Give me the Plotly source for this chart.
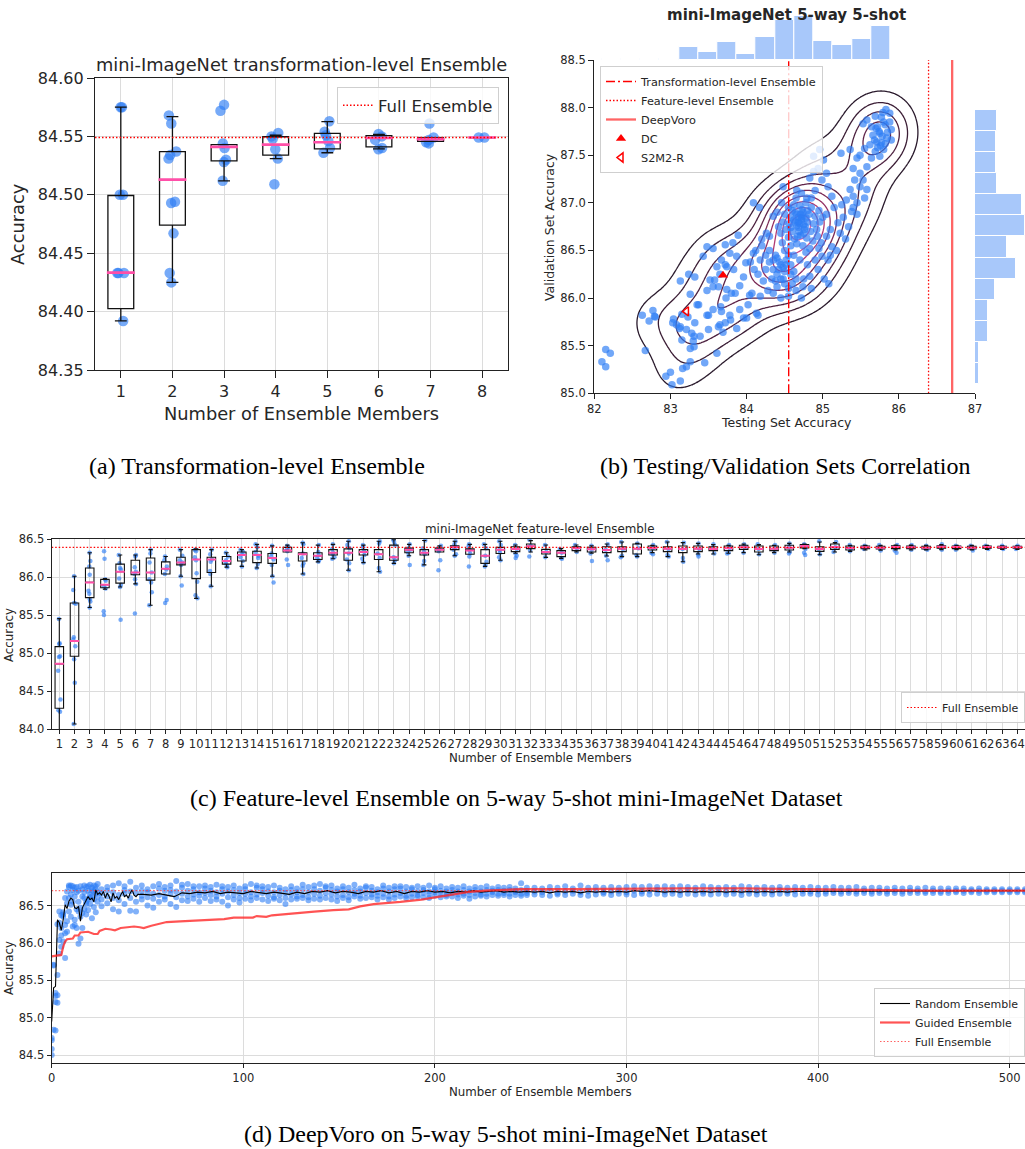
import numpy as np
import plotly.graph_objects as go

W, H = 1025, 1149
def fx(p): return p / W
def fy(p): return 1 - p / H

TXT = '#262626'
BLUE = 'rgba(45,125,245,0.65)'
FONT = 'DejaVu Sans'
DOT = '1.5px,2px'
DASHDOT = '9px,3px,2px,3px'

# ---------------- (a) transformation-level ensemble ----------------
A_GROUPS = [1, 2, 3, 4, 5, 6, 7, 8]
A_Q1 = [84.4026, 84.474, 84.529, 84.534, 84.5394, 84.5411, 84.5457, 84.549]
A_MED = [84.4334, 84.513, 84.541, 84.543, 84.545, 84.5486, 84.5477, 84.549]
A_Q3 = [84.4994, 84.537, 84.543, 84.5497, 84.5526, 84.5506, 84.549, 84.549]
A_LO = [84.392, 84.425, 84.512, 84.531, 84.536, 84.5394, 84.5457, 84.549]
A_HI = [84.575, 84.567, 84.543, 84.551, 84.5626, 84.5517, 84.549, 84.549]
A_PTS = [
    [84.575, 84.575, 84.500, 84.500, 84.433, 84.433, 84.433, 84.392],
    [84.568, 84.561, 84.537, 84.534, 84.531, 84.494, 84.493, 84.467, 84.433, 84.425],
    [84.577, 84.572, 84.544, 84.540, 84.530, 84.528, 84.512],
    [84.553, 84.550, 84.548, 84.539, 84.531, 84.509],
    [84.563, 84.554, 84.551, 84.546, 84.540, 84.536],
    [84.552, 84.550, 84.547, 84.540, 84.539],
    [84.561, 84.549, 84.547, 84.545, 84.544],
    [84.549, 84.549],
]
A_FULL = 84.549

# ---------------- (b) testing / validation correlation ----------------
B_POINTS = [
    (82.10, 85.33), (82.15, 85.46), (82.21, 85.42), (82.15, 85.28),
    (82.63, 85.82), (82.67, 85.45), (82.72, 85.76), (82.77, 85.87), (82.80, 85.80), (82.79, 85.81),
    (82.94, 85.18), (83.00, 85.22), (83.02, 85.09), (83.13, 85.13), (83.16, 85.26), (83.21, 85.28),
    (83.26, 85.33), (83.45, 85.32), (83.61, 85.42),
    (83.03, 85.74), (83.08, 85.72), (83.12, 85.68), (83.15, 85.56), (83.21, 85.67), (83.26, 85.47),
    (83.28, 85.63), (83.31, 85.60), (83.37, 85.93), (83.26, 86.04), (83.13, 86.18), (83.24, 86.25),
    (83.50, 85.67), (83.50, 85.82), (83.56, 85.88), (83.65, 85.72), (83.69, 85.64), (83.67, 85.86),
    (83.79, 85.77), (83.87, 85.68), (83.91, 85.88), (83.96, 85.79), (83.04, 85.78), (83.13, 85.70),
    (83.30, 85.55), (83.39, 85.60), (83.31, 85.49), (83.15, 85.83), (83.23, 85.80), (83.32, 85.74),
    (83.35, 85.93), (83.48, 85.82), (83.66, 85.91), (83.63, 85.70), (83.72, 85.74), (83.78, 85.82),
    (84.00, 85.79), (84.13, 85.84), (84.15, 85.82),
    (83.48, 86.08), (83.56, 86.12), (83.58, 86.19), (83.65, 86.25), (83.74, 86.33), (83.80, 86.05),
    (83.91, 86.13), (84.04, 86.03), (83.96, 86.22), (83.61, 86.33), (83.72, 86.35), (83.83, 86.30),
    (83.52, 86.19), (83.63, 86.12), (83.74, 86.09), (83.73, 86.00), (83.85, 86.05), (84.02, 85.93),
    (84.07, 86.05), (83.32, 86.22), (84.18, 86.02),
    (83.43, 86.44), (83.48, 86.54), (83.56, 86.52), (83.72, 86.56), (83.82, 86.58), (83.89, 86.66),
    (83.67, 86.40), (83.78, 86.47), (83.87, 86.44), (83.99, 86.37), (84.09, 86.47), (84.09, 87.00),
    (84.17, 86.95), (84.26, 86.68), (84.35, 86.86),
    (84.20, 86.55), (84.25, 86.45), (84.30, 86.38), (84.35, 86.30), (84.40, 86.25), (84.45, 86.20),
    (84.50, 86.15), (84.55, 86.10), (84.30, 86.50), (84.38, 86.45), (84.43, 86.38), (84.48, 86.32),
    (84.52, 86.40), (84.58, 86.35), (84.62, 86.28), (84.65, 86.20), (84.60, 86.15), (84.40, 86.12),
    (84.33, 86.20), (84.25, 86.30), (84.18, 86.40), (84.15, 86.25), (84.22, 86.18), (84.28, 86.08),
    (84.35, 86.05), (84.45, 86.00), (84.55, 86.02), (84.65, 86.08), (84.75, 86.20), (84.80, 86.35),
    (84.70, 86.40), (84.62, 86.45), (84.50, 86.50), (84.10, 86.30), (84.12, 86.50), (84.05, 86.38),
    (84.72, 86.00), (84.85, 86.10), (84.78, 86.48), (84.90, 86.40), (85.02, 86.20), (85.08, 86.15),
    (84.20, 86.62), (84.30, 86.65), (84.45, 86.35), (84.50, 86.28), (84.40, 86.42), (84.35, 86.40),
    (84.55, 86.45), (84.48, 86.20), (84.42, 86.30), (84.38, 86.18), (84.58, 86.25), (84.52, 86.35),
    (84.55, 86.95), (84.62, 86.98), (84.70, 86.97), (84.78, 87.00), (84.85, 86.95), (84.50, 86.88),
    (84.58, 86.85), (84.66, 86.88), (84.74, 86.90), (84.82, 86.88), (84.90, 86.86), (84.48, 86.80),
    (84.56, 86.78), (84.64, 86.80), (84.72, 86.82), (84.80, 86.80), (84.88, 86.78), (84.96, 86.80),
    (84.52, 86.72), (84.60, 86.70), (84.68, 86.74), (84.76, 86.72), (84.84, 86.70), (84.92, 86.72),
    (84.45, 86.68), (84.55, 86.64), (84.63, 86.62), (84.71, 86.66), (84.79, 86.63), (84.87, 86.60),
    (84.42, 86.75), (84.47, 86.58), (84.58, 86.55), (84.66, 86.57), (84.74, 86.55), (84.83, 86.52),
    (84.40, 86.90), (84.46, 87.00), (84.65, 87.05), (84.75, 86.77), (84.68, 86.85), (84.60, 86.92),
    (84.73, 86.93), (84.85, 87.05), (84.95, 86.92), (85.00, 86.85), (84.93, 86.65), (84.98, 86.58),
    (84.68, 86.80), (84.70, 86.78), (84.72, 86.84), (84.66, 86.76), (84.74, 86.86), (84.62, 86.82),
    (84.78, 86.84), (84.69, 86.70), (84.75, 86.68), (84.58, 86.74), (84.64, 86.90), (84.80, 86.92),
    (84.71, 86.88), (84.67, 86.65), (84.77, 86.75),
    (84.96, 87.56), (84.88, 87.49), (85.01, 87.45), (84.94, 87.36), (84.88, 87.33), (85.05, 87.31),
    (84.99, 87.24), (84.83, 87.26), (84.72, 87.10), (84.66, 87.13), (84.48, 87.17), (84.79, 87.05),
    (84.90, 87.13), (85.07, 87.17), (85.12, 87.07),
    (85.24, 87.52), (85.36, 87.56), (85.45, 87.47), (85.40, 87.36), (85.49, 87.31), (85.42, 87.24),
    (85.53, 87.24), (85.49, 87.17), (85.58, 87.14), (85.36, 87.14), (85.40, 87.07), (85.31, 87.03),
    (85.25, 86.98), (85.38, 86.91), (85.27, 86.85), (85.20, 86.79), (85.34, 86.75), (85.23, 86.68),
    (85.10, 86.72), (85.05, 86.65), (85.12, 86.54), (84.99, 86.44), (85.07, 86.40), (84.94, 86.30),
    (84.83, 86.23), (84.74, 86.12), (85.40, 86.95), (85.45, 86.88), (85.30, 86.62), (85.18, 86.50),
    (85.45, 87.00), (85.55, 87.05), (85.10, 86.45), (84.95, 86.52), (85.05, 86.88), (85.15, 86.95),
    (85.83, 87.98), (85.88, 87.94), (85.77, 87.90), (85.69, 87.91), (85.58, 87.87), (85.53, 87.83),
    (85.72, 87.80), (85.82, 87.82), (85.90, 87.77), (85.75, 87.73), (85.66, 87.71), (85.84, 87.68),
    (85.71, 87.64), (85.77, 87.63), (85.90, 87.66), (85.62, 87.61), (85.55, 87.57), (85.69, 87.54),
    (85.80, 87.56), (85.75, 87.49), (85.64, 87.47), (85.49, 87.50), (85.58, 87.38),
    (85.74, 87.75), (85.78, 87.70), (85.70, 87.78), (85.80, 87.85), (85.68, 87.66), (85.76, 87.60),
    (85.85, 87.74), (85.72, 87.58), (85.64, 87.80), (85.82, 87.62), (85.88, 87.85), (85.79, 87.95),
]
B_TOP_COUNTS = [1, 0, 1, 2, 21, 13, 30, 10, 38, 66, 72, 31, 25, 34, 56]
B_TOP_START, B_TOP_BINW = 82.1, 0.2526
B_RIGHT_COUNTS = [5, 5, 17, 17, 26, 53, 41, 64, 61, 29, 27, 27, 28]
B_RIGHT_START, B_RIGHT_BINW = 85.1, 0.221
B_TRANS = 84.553
B_FEAT = 86.39
B_VORO = 86.70
B_DC = (83.69, 86.24)
B_S2M2 = (83.21, 85.86)

# ---------------- (c) feature-level ensemble ----------------
C_GROUPS = list(range(1, 65))
C_Q1 = [84.277, 84.96, 85.73, 85.86, 85.92, 86.03, 85.96, 86.04, 86.16, 85.98,
        86.06, 86.17, 86.21, 86.19, 86.18, 86.33, 86.21, 86.23, 86.29, 86.22,
        86.29, 86.23, 86.22, 86.32, 86.29, 86.33, 86.36, 86.30, 86.18, 86.31,
        86.334, 86.373, 86.303, 86.268, 86.347, 86.329, 86.321, 86.334, 86.303, 86.356,
        86.334, 86.321, 86.334, 86.347, 86.347, 86.364, 86.329, 86.347, 86.356, 86.382,
        86.338, 86.364, 86.356, 86.373, 86.369, 86.373, 86.373, 86.369, 86.378, 86.373,
        86.369, 86.378, 86.378, 86.378]
C_MED = [84.86, 85.16, 85.93, 85.90, 86.07, 86.06, 86.06, 86.11, 86.19, 86.23,
         86.23, 86.21, 86.29, 86.29, 86.25, 86.35, 86.30, 86.28, 86.32, 86.32,
         86.33, 86.30, 86.26, 86.36, 86.32, 86.36, 86.39, 86.35, 86.28, 86.36,
         86.369, 86.404, 86.329, 86.321, 86.377, 86.364, 86.356, 86.373, 86.373, 86.382,
         86.373, 86.369, 86.373, 86.369, 86.377, 86.391, 86.369, 86.373, 86.386, 86.408,
         86.369, 86.395, 86.382, 86.391, 86.386, 86.395, 86.391, 86.386, 86.399, 86.395,
         86.386, 86.395, 86.391, 86.391]
C_Q3 = [85.086, 85.66, 86.12, 85.97, 86.17, 86.22, 86.25, 86.20, 86.26, 86.36,
        86.26, 86.27, 86.33, 86.34, 86.31, 86.39, 86.32, 86.32, 86.36, 86.37,
        86.36, 86.36, 86.42, 86.38, 86.36, 86.38, 86.41, 86.37, 86.36, 86.39,
        86.399, 86.434, 86.364, 86.347, 86.399, 86.391, 86.399, 86.399, 86.434, 86.408,
        86.399, 86.408, 86.408, 86.399, 86.408, 86.417, 86.408, 86.408, 86.417, 86.426,
        86.399, 86.434, 86.408, 86.408, 86.404, 86.412, 86.408, 86.404, 86.412, 86.408,
        86.404, 86.408, 86.404, 86.404]
C_LO = [83.80, 84.07, 85.60, 85.84, 85.87, 85.91, 85.63, 86.04, 86.01, 85.72,
        85.88, 86.13, 86.14, 86.12, 86.01, 86.33, 86.04, 86.20, 86.24, 86.09,
        86.19, 86.07, 86.18, 86.28, 86.16, 86.33, 86.28, 86.30, 86.14, 86.22,
        86.312, 86.329, 86.259, 86.246, 86.329, 86.312, 86.277, 86.268, 86.268, 86.321,
        86.268, 86.202, 86.303, 86.303, 86.312, 86.321, 86.294, 86.321, 86.329, 86.373,
        86.294, 86.329, 86.338, 86.356, 86.352, 86.356, 86.356, 86.356, 86.360, 86.360,
        86.356, 86.364, 86.364, 86.364]
C_HI = [85.454, 86.01, 86.32, 85.98, 86.29, 86.29, 86.36, 86.27, 86.36, 86.37,
        86.36, 86.32, 86.36, 86.43, 86.41, 86.42, 86.45, 86.42, 86.43, 86.47,
        86.42, 86.47, 86.49, 86.43, 86.48, 86.41, 86.47, 86.43, 86.43, 86.47,
        86.421, 86.478, 86.421, 86.373, 86.421, 86.412, 86.434, 86.461, 86.443, 86.417,
        86.461, 86.452, 86.443, 86.426, 86.417, 86.434, 86.426, 86.417, 86.443, 86.434,
        86.461, 86.452, 86.417, 86.417, 86.417, 86.421, 86.421, 86.417, 86.426, 86.417,
        86.417, 86.417, 86.412, 86.412]
C_PTS = [
    [85.45, 85.13, 85.12, 84.96, 84.95, 84.77, 84.39, 84.25, 84.23],
    [86.01, 85.83, 85.66, 85.65, 85.21, 85.18, 85.09, 84.92, 84.61, 84.07],
    [86.32, 86.21, 86.14, 86.03, 85.82, 85.78, 85.71, 85.68, 85.60],
    [86.34, 86.24, 85.97, 85.95, 85.88, 85.85, 85.55, 85.50],
    [86.29, 86.18, 86.12, 86.10, 85.98, 85.90, 85.87, 85.44],
    [86.29, 86.27, 86.13, 86.07, 86.04, 85.97, 85.91, 85.52],
    [86.36, 86.31, 86.19, 86.06, 85.97, 85.93, 85.80, 85.63],
    [86.27, 86.22, 86.14, 86.10, 86.04, 85.70, 85.66],
    [86.36, 86.28, 86.22, 86.19, 86.16, 86.01, 85.89],
    [86.36, 86.34, 86.26, 86.22, 86.05, 85.94, 85.76, 85.72],
    [86.36, 86.30, 86.23, 86.20, 86.08, 86.04, 85.88],
    [86.32, 86.27, 86.22, 86.19, 86.16, 86.13],
    [86.36, 86.33, 86.30, 86.26, 86.21, 86.14],
    [86.43, 86.39, 86.33, 86.28, 86.25, 86.17, 86.12],
    [86.41, 86.31, 86.27, 86.23, 86.16, 86.01, 85.93],
    [86.41, 86.39, 86.36, 86.34, 86.23, 86.16],
    [86.45, 86.43, 86.31, 86.25, 86.18, 86.15, 86.04],
    [86.42, 86.33, 86.29, 86.25, 86.22, 86.20],
    [86.43, 86.37, 86.32, 86.30, 86.26, 86.24],
    [86.47, 86.42, 86.38, 86.31, 86.23, 86.18, 86.09],
    [86.42, 86.39, 86.34, 86.29, 86.24, 86.19],
    [86.47, 86.44, 86.31, 86.25, 86.12, 86.07],
    [86.49, 86.46, 86.42, 86.26, 86.22, 86.18],
    [86.43, 86.38, 86.36, 86.33, 86.28, 86.16],
    [86.48, 86.38, 86.33, 86.30, 86.21, 86.16],
    [86.41, 86.38, 86.36, 86.34, 86.22, 86.09],
    [86.47, 86.43, 86.39, 86.36, 86.30, 86.28],
    [86.43, 86.40, 86.35, 86.31, 86.27, 86.14],
    [86.43, 86.38, 86.28, 86.20, 86.16, 86.14],
    [86.47, 86.42, 86.36, 86.32, 86.26, 86.22],
    [86.42, 86.37, 86.31, 86.28, 86.25],
    [86.49, 86.41, 86.35, 86.27],
    [86.42, 86.33, 86.26],
    [86.37, 86.32, 86.25, 86.24],
    [86.42, 86.38, 86.33],
    [86.41, 86.36, 86.31, 86.21],
    [86.43, 86.36, 86.28, 86.22],
    [86.46, 86.37, 86.28, 86.26],
    [86.44, 86.38, 86.29, 86.27],
    [86.42, 86.38, 86.32, 86.30],
    [86.46, 86.37, 86.29, 86.27],
    [86.45, 86.37, 86.25, 86.20],
    [86.44, 86.37, 86.30, 86.27],
    [86.43, 86.37, 86.31],
    [86.42, 86.38, 86.32, 86.31],
    [86.43, 86.39, 86.32],
    [86.43, 86.37, 86.30],
    [86.42, 86.37, 86.32],
    [86.44, 86.39, 86.33, 86.31],
    [86.43, 86.41, 86.37, 86.32, 86.29],
    [86.47, 86.37, 86.30],
    [86.46, 86.39, 86.33],
    [86.42, 86.38, 86.34],
    [86.41, 86.39, 86.37],
    [86.42, 86.39, 86.35],
    [86.42, 86.39, 86.35, 86.32],
    [86.42, 86.39, 86.36],
    [86.41, 86.38, 86.36],
    [86.43, 86.39, 86.36],
    [86.41, 86.39, 86.36],
    [86.41, 86.38, 86.35],
    [86.41, 86.39, 86.37],
    [86.41, 86.39, 86.37],
    [86.41, 86.39, 86.37],
]
C_FULL = 86.39

# ---------------- (d) DeepVoro ----------------
D_PX = list(range(0, 25)) + list(range(26, 249, 3)) + list(range(252, 509, 4))
D_PY = [
    [84.50, 84.58, 84.70, 84.73], [85.71, 85.70, 84.84], [85.33, 85.21, 84.83, 85.29],
    [85.57, 85.30, 85.20, 86.25], [85.86, 86.42, 86.04, 86.27], [86.10, 85.95, 86.37, 86.20],
    [86.02, 86.35, 86.38, 86.41], [85.80, 86.24, 86.13, 86.60], [86.15, 86.29, 86.69, 86.53],
    [86.75, 86.77, 86.42, 86.60], [86.77, 86.51, 86.35, 86.65], [86.71, 86.22, 86.55, 86.76],
    [86.24, 86.31, 86.74, 86.62], [86.20, 86.75, 86.45, 86.68], [85.99, 86.42, 86.70, 86.55],
    [86.06, 86.76, 86.47, 86.35], [86.40, 86.72, 86.62, 86.20], [86.77, 86.45, 86.60, 86.68],
    [86.38, 86.75, 86.55, 86.52], [86.44, 86.70, 86.76, 86.58], [86.52, 86.78, 86.65, 86.61],
    [86.33, 86.74, 86.62, 86.70], [86.48, 86.77, 86.58, 86.69], [86.41, 86.72, 86.66, 86.76],
    [86.55, 86.79, 86.68, 86.62],
    [86.72, 86.58, 86.66, 86.49], [86.75, 86.62, 86.53, 86.70], [86.68, 86.45, 86.77, 86.60],
    [86.80, 86.57, 86.64, 86.42], [86.71, 86.66, 86.52, 86.76], [86.82, 86.60, 86.43, 86.69],
    [86.74, 86.55, 86.67, 86.42], [86.77, 86.63, 86.58, 86.70], [86.68, 86.72, 86.50, 86.61],
    [86.76, 86.59, 86.66, 86.47], [86.73, 86.64, 86.55, 86.79], [86.70, 86.58, 86.75, 86.62],
    [86.77, 86.66, 86.52, 86.71], [86.83, 86.61, 86.69, 86.48], [86.74, 86.57, 86.66, 86.78],
    [86.79, 86.62, 86.70, 86.56], [86.72, 86.65, 86.59, 86.76], [86.76, 86.68, 86.55, 86.63],
    [86.73, 86.60, 86.67, 86.77], [86.70, 86.64, 86.56, 86.75], [86.78, 86.62, 86.68, 86.58],
    [86.72, 86.66, 86.55, 86.76], [86.75, 86.61, 86.69, 86.50], [86.77, 86.64, 86.58, 86.71],
    [86.73, 86.60, 86.67, 86.54], [86.76, 86.66, 86.59, 86.72], [86.79, 86.62, 86.68, 86.57],
    [86.74, 86.65, 86.60, 86.77], [86.72, 86.58, 86.67, 86.76], [86.75, 86.63, 86.69, 86.56],
    [86.77, 86.61, 86.68, 86.59], [86.74, 86.64, 86.57, 86.70], [86.72, 86.60, 86.67, 86.52],
    [86.76, 86.65, 86.58, 86.71], [86.73, 86.62, 86.68, 86.59], [86.78, 86.64, 86.60, 86.72],
    [86.75, 86.61, 86.68, 86.57], [86.72, 86.66, 86.59, 86.77], [86.79, 86.63, 86.70, 86.58],
    [86.74, 86.60, 86.67, 86.76], [86.77, 86.65, 86.58, 86.71], [86.73, 86.62, 86.69, 86.56],
    [86.76, 86.64, 86.60, 86.72], [86.74, 86.61, 86.68, 86.57], [86.78, 86.66, 86.62, 86.71],
    [86.73, 86.63, 86.69, 86.59], [86.76, 86.60, 86.67, 86.74], [86.75, 86.65, 86.61, 86.70],
    [86.72, 86.63, 86.68, 86.58], [86.77, 86.66, 86.61, 86.73], [86.74, 86.62, 86.69, 86.58],
    [86.76, 86.65, 86.60, 86.72], [86.73, 86.67, 86.62, 86.76], [86.75, 86.63, 86.69, 86.60],
    [86.72, 86.66, 86.61, 86.74], [86.76, 86.64, 86.69, 86.62], [86.74, 86.67, 86.61, 86.71],
    [86.77, 86.65, 86.69, 86.60], [86.74, 86.63, 86.68, 86.72], [86.76, 86.66, 86.61, 86.70],
    [86.73, 86.64, 86.69, 86.62], [86.75, 86.67, 86.62, 86.71], [86.74, 86.65, 86.60, 86.69],
    [86.76, 86.66, 86.63, 86.71], [86.73, 86.64, 86.69, 86.59], [86.75, 86.67, 86.62, 86.71],
    [86.74, 86.65, 86.69, 86.63], [86.76, 86.66, 86.62, 86.71], [86.73, 86.68, 86.64, 86.70],
    [86.75, 86.66, 86.63, 86.71], [86.74, 86.67, 86.64, 86.70], [86.75, 86.66, 86.62, 86.71],
    [86.73, 86.68, 86.64, 86.70], [86.80, 86.66, 86.63, 86.71], [86.74, 86.67, 86.64, 86.70],
    [86.74, 86.69, 86.65], [86.73, 86.68, 86.64], [86.75, 86.70, 86.63], [86.74, 86.67, 86.65],
    [86.76, 86.69, 86.64], [86.73, 86.70, 86.66], [86.77, 86.68, 86.64], [86.74, 86.69, 86.63],
    [86.75, 86.70, 86.65], [86.74, 86.68, 86.66], [86.75, 86.69, 86.64], [86.74, 86.70, 86.66],
    [86.75, 86.68, 86.65], [86.76, 86.70, 86.64], [86.75, 86.69, 86.66], [86.76, 86.70, 86.65],
    [86.75, 86.71, 86.66], [86.76, 86.69, 86.65], [86.75, 86.70, 86.66], [86.76, 86.69, 86.64],
    [86.75, 86.71, 86.66], [86.74, 86.70, 86.65], [86.76, 86.69, 86.66], [86.75, 86.70, 86.65],
    [86.74, 86.71, 86.66], [86.75, 86.69, 86.65], [86.74, 86.70, 86.66], [86.76, 86.69, 86.64],
    [86.75, 86.70, 86.66], [86.74, 86.69, 86.65], [86.75, 86.70, 86.66], [86.74, 86.69, 86.65],
    [86.75, 86.71, 86.66], [86.74, 86.69, 86.66], [86.75, 86.70, 86.65], [86.74, 86.70, 86.66],
    [86.75, 86.69, 86.66], [86.74, 86.70, 86.65], [86.74, 86.69, 86.66], [86.75, 86.70, 86.67],
    [86.74, 86.69, 86.66], [86.74, 86.70, 86.67], [86.75, 86.69, 86.66], [86.73, 86.70, 86.67],
    [86.74, 86.69, 86.66], [86.74, 86.70, 86.67], [86.73, 86.69, 86.66], [86.74, 86.70, 86.67],
    [86.73, 86.69, 86.66], [86.74, 86.70, 86.67], [86.73, 86.70, 86.67], [86.74, 86.69, 86.67],
    [86.73, 86.70, 86.67], [86.73, 86.69, 86.67], [86.73, 86.70, 86.67], [86.73, 86.70, 86.68],
    [86.73, 86.70, 86.67], [86.72, 86.70, 86.68], [86.73, 86.70, 86.67], [86.72, 86.70, 86.68],
    [86.72, 86.70, 86.68], [86.72, 86.70, 86.68], [86.72, 86.70, 86.68], [86.72, 86.70, 86.68],
    [86.72, 86.70, 86.68],
]
D_RAND_X = list(range(0, 46)) + list(range(48, 509, 4))
D_RAND_Y = [
    84.95, 85.40, 85.42, 86.31, 86.27, 86.17, 86.31, 86.51, 86.46, 86.56,
    86.60, 86.58, 86.47, 86.46, 86.49, 86.29, 86.47, 86.52, 86.57, 86.62,
    86.58, 86.60, 86.55, 86.71, 86.65, 86.67, 86.64, 86.69, 86.60, 86.67,
    86.62, 86.55, 86.67, 86.60, 86.62, 86.58, 86.64, 86.69, 86.62, 86.64,
    86.60, 86.67, 86.71, 86.64, 86.62, 86.65,
    86.65, 86.64, 86.66, 86.64, 86.62, 86.67, 86.66, 86.68, 86.67, 86.69,
    86.66, 86.68, 86.67, 86.66, 86.69, 86.67, 86.66, 86.68, 86.67, 86.65,
    86.68, 86.66, 86.69, 86.68, 86.70, 86.67, 86.69, 86.68, 86.66, 86.69,
    86.68, 86.70, 86.67, 86.69, 86.66, 86.69, 86.68, 86.70, 86.68, 86.69,
    86.67, 86.69, 86.68, 86.70, 86.68, 86.69, 86.70, 86.68, 86.69, 86.68,
    86.69, 86.68, 86.69, 86.67, 86.69, 86.68, 86.69, 86.67, 86.69, 86.68,
    86.69, 86.68, 86.69, 86.68, 86.70, 86.69, 86.70, 86.69, 86.68, 86.69,
    86.68, 86.69, 86.68, 86.69, 86.68, 86.69, 86.68, 86.69, 86.68, 86.69,
    86.68, 86.69, 86.68, 86.69, 86.68, 86.69, 86.69, 86.70, 86.69, 86.70,
    86.69, 86.70, 86.69, 86.69, 86.70, 86.69, 86.70, 86.69, 86.70, 86.69,
    86.70, 86.69, 86.70, 86.69, 86.70, 86.70, 86.69, 86.70, 86.70, 86.70,
    86.69, 86.70, 86.70, 86.70, 86.70, 86.70,
]
D_GUIDE_X = [0, 5, 6, 7, 8, 11, 12, 14, 15, 19, 22, 24, 25, 28, 31, 33, 36, 43, 46, 48,
             52, 56, 60, 67, 75, 78, 86, 90, 95, 105, 107, 112, 115, 126, 137, 147, 155,
             161, 168, 182, 193, 200, 209, 217, 226, 235, 245, 270, 300, 330, 360, 400,
             430, 460, 508]
D_GUIDE_Y = [85.82, 85.84, 85.95, 86.02, 86.05, 86.06, 86.10, 86.10, 86.14, 86.15, 86.12,
             86.12, 86.16, 86.19, 86.18, 86.17, 86.20, 86.22, 86.21, 86.20, 86.23, 86.26,
             86.28, 86.29, 86.30, 86.31, 86.31, 86.32, 86.34, 86.34, 86.36, 86.35, 86.37,
             86.40, 86.42, 86.44, 86.45, 86.49, 86.52, 86.55, 86.58, 86.61, 86.65, 86.68,
             86.70, 86.71, 86.72, 86.72, 86.73, 86.73, 86.73, 86.72, 86.71, 86.70, 86.70]
D_FULL = 86.70

# =====================================================================
fig = go.Figure()

def flat(groups, lists):
    xs, ys = [], []
    for g, vals in zip(groups, lists):
        xs += [g] * len(vals)
        ys += vals
    return xs, ys

def add_boxes(xa, ya, groups, q1, med, q3, lo, hi, pts, width, whisk, psize, pink_w, lw):
    px_, py_ = flat(groups, pts)
    fig.add_trace(go.Box(x=px_, y=py_, boxpoints='all', jitter=0.35, pointpos=0, width=width,
                         line=dict(width=0, color='rgba(0,0,0,0)'), fillcolor='rgba(0,0,0,0)',
                         marker=dict(size=psize, color=BLUE, line=dict(width=0)),
                         xaxis=xa, yaxis=ya, showlegend=False, hoverinfo='skip'))
    fig.add_trace(go.Box(x=groups, q1=q1, median=med, q3=q3, lowerfence=lo, upperfence=hi,
                         width=width, whiskerwidth=whisk, boxpoints=False,
                         fillcolor='rgba(0,0,0,0)', line=dict(color='#111111', width=lw),
                         xaxis=xa, yaxis=ya, showlegend=False, hoverinfo='skip'))
    fig.add_trace(go.Box(x=groups, q1=med, median=med, q3=med, lowerfence=med, upperfence=med,
                         width=width * 1.08, whiskerwidth=0, boxpoints=False,
                         fillcolor='rgba(0,0,0,0)', line=dict(color='#ff4fa8', width=pink_w),
                         xaxis=xa, yaxis=ya, showlegend=False, hoverinfo='skip'))

# ---- (a)
A_XR = [0.5, 8.5]
add_boxes('x', 'y', A_GROUPS, A_Q1, A_MED, A_Q3, A_LO, A_HI, A_PTS, 0.5, 0.46, 10.5, 2.6, 1.3)
fig.add_trace(go.Scatter(x=A_XR, y=[A_FULL, A_FULL], mode='lines', name='Full Ensemble',
                         line=dict(color='red', dash=DOT, width=1.5), xaxis='x', yaxis='y',
                         legend='legend'))

# ---- (b)
bx = np.array([p[0] for p in B_POINTS])
by = np.array([p[1] for p in B_POINTS])
B_XR, B_YR = [82, 87], [85, 88.5]
fig.add_trace(go.Scatter(x=bx, y=by, mode='markers', showlegend=False, hoverinfo='skip',
                         marker=dict(size=7.5, color='rgba(45,125,245,0.68)', line=dict(width=0)),
                         xaxis='x2', yaxis='y2'))
n = len(bx)
hx = 0.8 * 1.06 * bx.std() * n ** (-1 / 6)
hy = 0.8 * 1.06 * by.std() * n ** (-1 / 6)
gx = np.linspace(B_XR[0], B_XR[1], 240)
gy = np.linspace(B_YR[0], B_YR[1], 220)
Kx = np.exp(-0.5 * ((gx[:, None] - bx[None, :]) / hx) ** 2)
Ky = np.exp(-0.5 * ((gy[:, None] - by[None, :]) / hy) ** 2)
dens = Ky @ Kx.T
dens = dens / dens.max()
fig.add_trace(go.Contour(x=gx, y=gy, z=dens, xaxis='x2', yaxis='y2', showscale=False,
                         hoverinfo='skip', zmin=0.1, zmax=0.94,
                         contours=dict(coloring='lines', start=0.1, end=0.94, size=0.105),
                         colorscale=[[0, '#2a1a2c'], [0.35, '#5a2346'], [0.7, '#a4336a'], [1, '#ec5f9f']],
                         line=dict(width=1.3)))
fig.add_trace(go.Scatter(x=[B_TRANS, B_TRANS], y=B_YR, mode='lines', name='Transformation-level Ensemble',
                         line=dict(color='red', dash=DASHDOT, width=1.4), xaxis='x2', yaxis='y2',
                         legend='legend2'))
fig.add_trace(go.Scatter(x=[B_FEAT, B_FEAT], y=B_YR, mode='lines', name='Feature-level Ensemble',
                         line=dict(color='red', dash=DOT, width=1.3), xaxis='x2', yaxis='y2',
                         legend='legend2'))
fig.add_trace(go.Scatter(x=[B_VORO, B_VORO], y=B_YR, mode='lines', name='DeepVoro',
                         line=dict(color='rgba(255,50,50,0.75)', width=2.3), xaxis='x2', yaxis='y2',
                         legend='legend2'))
fig.add_trace(go.Scatter(x=[B_DC[0]], y=[B_DC[1]], mode='markers', name='DC',
                         marker=dict(symbol='triangle-up', size=9, color='red'),
                         xaxis='x2', yaxis='y2', legend='legend2'))
fig.add_trace(go.Scatter(x=[B_S2M2[0]], y=[B_S2M2[1]], mode='markers', name='S2M2-R',
                         marker=dict(symbol='triangle-left-open', size=8, color='red', line=dict(width=1.5)),
                         xaxis='x2', yaxis='y2', legend='legend2'))
top_c = [B_TOP_START + B_TOP_BINW * (i + 0.5) for i in range(len(B_TOP_COUNTS))]
fig.add_trace(go.Bar(x=top_c, y=B_TOP_COUNTS, width=B_TOP_BINW, xaxis='x3', yaxis='y3',
                     marker=dict(color='#a8c8fa', line=dict(color='white', width=1)),
                     showlegend=False, hoverinfo='skip'))
right_c = [B_RIGHT_START + B_RIGHT_BINW * (i + 0.5) for i in range(len(B_RIGHT_COUNTS))]
fig.add_trace(go.Bar(y=right_c, x=B_RIGHT_COUNTS, width=B_RIGHT_BINW, orientation='h',
                     xaxis='x4', yaxis='y4',
                     marker=dict(color='#a8c8fa', line=dict(color='white', width=1)),
                     showlegend=False, hoverinfo='skip'))

# ---- (c)
C_XR = [0.5, 64.5]
add_boxes('x5', 'y5', C_GROUPS, C_Q1, C_MED, C_Q3, C_LO, C_HI, C_PTS, 0.56, 0.5, 4.5, 2.0, 1.1)
fig.add_trace(go.Scatter(x=C_XR, y=[C_FULL, C_FULL], mode='lines', name='Full Ensemble',
                         line=dict(color='red', dash=DOT, width=1.1), xaxis='x5', yaxis='y5',
                         legend='legend3'))

# ---- (d)
D_XR = [0, 508]
dxs, dys = flat(D_PX, D_PY)
fig.add_trace(go.Scatter(x=dxs, y=dys, mode='markers', showlegend=False, hoverinfo='skip',
                         marker=dict(size=6, color='rgba(45,125,245,0.6)', line=dict(width=0)),
                         xaxis='x6', yaxis='y6'))
fig.add_trace(go.Scatter(x=D_RAND_X[:len(D_RAND_Y)], y=D_RAND_Y[:len(D_RAND_X)], mode='lines',
                         name='Random Ensemble', line=dict(color='black', width=1.1),
                         xaxis='x6', yaxis='y6', legend='legend4'))
fig.add_trace(go.Scatter(x=D_GUIDE_X, y=D_GUIDE_Y, mode='lines', name='Guided Ensemble',
                         line=dict(color='rgba(255,40,40,0.8)', width=2.2),
                         xaxis='x6', yaxis='y6', legend='legend4'))
fig.add_trace(go.Scatter(x=D_XR, y=[D_FULL, D_FULL], mode='lines', name='Full Ensemble',
                         line=dict(color='rgba(255,60,60,0.8)', dash=DOT, width=1.1),
                         xaxis='x6', yaxis='y6', legend='legend4'))

# ================= layout =================
def ax(domain, rng, size, grid=True, mirror=True, **kw):
    d = dict(domain=domain, range=rng, showgrid=grid, gridcolor='#dcdcdc', gridwidth=1,
             showline=True, linecolor='#222222', linewidth=1.3, mirror=mirror,
             ticks='outside', ticklen=5, tickcolor='#222222', zeroline=False,
             automargin=False, tickangle=0,
             tickfont=dict(family=FONT, size=size, color=TXT))
    d.update(kw)
    return d

def hidden(domain, rng, anchor):
    return dict(domain=domain, range=rng, visible=False, anchor=anchor, automargin=False,
                showgrid=False, zeroline=False)

leg_common = dict(bgcolor='rgba(255,255,255,0.8)', bordercolor='#cfcfcf', borderwidth=1)

layout = dict(
    width=W, height=H, margin=dict(l=0, r=0, t=0, b=0, pad=0), autosize=False,
    paper_bgcolor='white', plot_bgcolor='white', boxmode='overlay', bargap=0,
    font=dict(family=FONT, color=TXT),
    xaxis=ax([fx(95), fx(508)], A_XR, 16, anchor='y', tickvals=A_GROUPS, ticklen=7),
    yaxis=ax([fy(370), fy(78)], [84.35, 84.60], 16, anchor='x', ticklen=7,
             tickvals=[84.35, 84.40, 84.45, 84.50, 84.55, 84.60], tickformat='.2f'),
    xaxis2=ax([fx(594.3), fx(975)], B_XR, 11.5, grid=False, mirror=False, anchor='y2',
              tickvals=[82, 83, 84, 85, 86, 87]),
    yaxis2=ax([fy(393.3), fy(60)], B_YR, 11.5, grid=False, mirror=False, anchor='x2',
              tickvals=[85.0, 85.5, 86.0, 86.5, 87.0, 87.5, 88.0, 88.5], tickformat='.1f'),
    xaxis3=hidden([fx(594.3), fx(975)], B_XR, 'y3'),
    yaxis3=hidden([fy(60), fy(15)], [0, 73.6], 'x3'),
    xaxis4=hidden([fx(975), 1.0], [0, 64.5], 'y4'),
    yaxis4=hidden([fy(393.3), fy(60)], B_YR, 'x4'),
    xaxis5=ax([fx(51.7), 1.0], C_XR, 11.5, anchor='y5', tickvals=C_GROUPS, ticklen=4),
    yaxis5=ax([fy(729.3), fy(539)], [84.0, 86.5], 11.5, anchor='x5', ticklen=4,
              tickvals=[84.0, 84.5, 85.0, 85.5, 86.0, 86.5], tickformat='.1f'),
    xaxis6=ax([fx(51.7), 1.0], D_XR, 11.5, anchor='y6', tickvals=[0, 100, 200, 300, 400, 500], ticklen=4),
    yaxis6=ax([fy(1063.3), fy(872.7)], [84.39, 86.94], 11.5, anchor='x6', ticklen=4,
              tickvals=[84.5, 85.0, 85.5, 86.0, 86.5], tickformat='.1f'),
    legend=dict(leg_common, x=fx(499), y=fy(87), xanchor='right', yanchor='top',
                font=dict(family=FONT, size=16.5, color=TXT)),
    legend2=dict(leg_common, x=fx(600), y=fy(66), xanchor='left', yanchor='top',
                 font=dict(family=FONT, size=11.3, color=TXT), tracegroupgap=0),
    legend3=dict(leg_common, x=1.0, y=fy(723), xanchor='right', yanchor='bottom',
                 font=dict(family=FONT, size=11, color=TXT)),
    legend4=dict(leg_common, x=1.0, y=fy(1057), xanchor='right', yanchor='bottom',
                 font=dict(family=FONT, size=11, color=TXT)),
)
fig.update_layout(**layout)

def ann(text, x, y, size, angle=0, family=FONT, bold=False, color=TXT):
    if bold:
        text = '<b>' + text + '</b>'
    fig.add_annotation(text=text, x=fx(x), y=fy(y), xref='paper', yref='paper',
                       xanchor='center', yanchor='middle', showarrow=False, textangle=angle,
                       font=dict(family=family, size=size, color=color))

ann('mini-ImageNet transformation-level Ensemble', 301.5, 64, 17.8)
ann('Number of Ensemble Members', 301.5, 413, 17.8)
ann('Accuracy', 18, 225, 17.8, angle=-90)
ann('mini-ImageNet 5-way 5-shot', 786, 15, 15, bold=True)
ann('Testing Set Accuracy', 786, 423, 12.5)
ann('Validation Set Accuracy', 549, 227, 12.5, angle=-90)
ann('mini-ImageNet feature-level Ensemble', 540, 529, 11.9)
ann('Number of Ensemble Members', 540, 758, 11.8)
ann('Accuracy', 9, 635, 11.8, angle=-90)
ann('Number of Ensemble Members', 540, 1092, 11.8)
ann('Accuracy', 9, 968, 11.8, angle=-90)

SERIF = 'Liberation Serif'
ann('(a) Transformation-level Ensemble', 257, 466, 24, family=SERIF, color='black')
ann('(b) Testing/Validation Sets Correlation', 785, 466, 24, family=SERIF, color='black')
ann('(c) Feature-level Ensemble on 5-way 5-shot mini-ImageNet Dataset', 516, 798, 24, family=SERIF, color='black')
ann('(d) DeepVoro on 5-way 5-shot mini-ImageNet Dataset', 506, 1134, 24, family=SERIF, color='black')

fig.write_html('out.html', config={'displayModeBar': False},
               post_script="document.body.style.margin='0px';document.body.style.padding='0px';"
                           "document.body.style.overflow='hidden';")
